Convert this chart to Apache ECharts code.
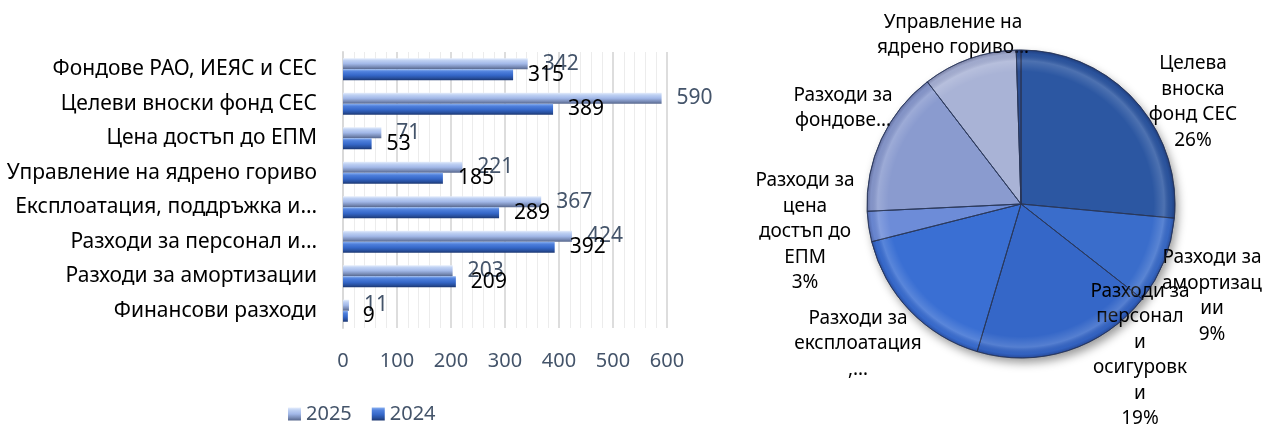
<!DOCTYPE html>
<html>
<head>
<meta charset="utf-8">
<script src="https://cdn.jsdelivr.net/npm/echarts@6/dist/echarts.min.js"></script>
<style>
  html, body { margin: 0; padding: 0; background: #ffffff; }
  #chart { width: 1262px; height: 425px; }
</style>
</head>
<body>
<div id="chart"></div>
<script>
// Cost categories (bar chart, top to bottom)
const categories = [
  'Фондове РАО, ИЕЯС и СЕС',
  'Целеви вноски фонд СЕС',
  'Цена достъп до ЕПМ',
  'Управление на ядрено гориво',
  'Експлоатация, поддръжка и…',
  'Разходи за персонал и…',
  'Разходи за амортизации',
  'Финансови разходи'
];
const values2025 = [342, 590, 71, 221, 367, 424, 203, 11];
const values2024 = [315, 389, 53, 185, 289, 392, 209, 9];
const seriesNames = ['2025', '2024'];
const axisMin = 0;
const axisMax = 600;
const axisStep = 100;

// Structure of the 2025 costs (pie, clockwise from 12 o'clock)
const pieNames = [
  'Целева вноска фонд СЕС',
  'Разходи за амортизации',
  'Разходи за персонал и осигуровки',
  'Разходи за експлоатация, …',
  'Разходи за цена достъп до ЕПМ',
  'Разходи за фондове…',
  'Управление на ядрено гориво…',
  'Финансови разходи'
];
const pieValues = [590, 203, 424, 367, 71, 342, 221, 11];
// Wrapped label text per slice; the share is appended when showShare is set
const pieLabelText = [
  ['Целева', 'вноска', 'фонд СЕС'],
  ['Разходи за', 'амортизац', 'ии'],
  ['Разходи за', 'персонал', 'и', 'осигуровк', 'и'],
  ['Разходи за', 'експлоатация', ',…'],
  ['Разходи за', 'цена', 'достъп до', 'ЕПМ'],
  ['Разходи за', 'фондове…'],
  ['Управление на', 'ядрено гориво…'],
  null
];
const pieShowShare = [true, true, true, false, true, false, false, false];

// ---- styling / layout ----
const FONT = 'Noto Sans';
const pieColors = ['#2c57a2', '#3a6dcb', '#3567c8', '#3a6fd3', '#6d8cd8', '#8a9bcf', '#a9b3d6', '#2a4d92'];
const PIE_CX = 1021, PIE_CY = 204, PIE_R = 154;
const labelSpots = [
  [1193, 102], [1212, 296], [1140, 355], [858, 344],
  [805, 232], [843, 108], [953, 35], null
];

function vGrad(stops) {
  return { type: 'linear', x: 0, y: 0, x2: 0, y2: 1,
    colorStops: stops.map(s => ({ offset: s[0], color: s[1] })) };
}
const grad2025 = vGrad([[0, '#e6eefc'], [0.2, '#bfd1f3'], [0.5, '#a2b8e8'], [0.78, '#7a8db8'], [1, '#56668c']]);
const grad2024 = vGrad([[0, '#8ab0f0'], [0.22, '#4f80dc'], [0.55, '#3567c8'], [0.8, '#28509f'], [1, '#1b3670']]);

const pieTotal = pieValues.reduce((a, b) => a + b, 0);

const chart = echarts.init(document.getElementById('chart'), null, { renderer: 'canvas' });

chart.setOption({
  animation: false,
  textStyle: { fontFamily: FONT },
  legend: {
    data: seriesNames,
    left: 283,
    top: 399,
    icon: 'rect',
    itemWidth: 13,
    itemHeight: 13,
    itemGap: 20,
    textStyle: { fontFamily: FONT, fontSize: 20, color: '#44546a' }
  },
  grid: { left: 343, right: 595, top: 52, bottom: 97, containLabel: false },
  xAxis: {
    type: 'value',
    min: axisMin,
    max: axisMax,
    interval: axisStep,
    axisLine: { show: false },
    axisTick: { show: false },
    axisLabel: { fontFamily: FONT, fontSize: 20, color: '#44546a', margin: 23 },
    splitLine: { show: true, lineStyle: { color: '#d2d2d2', width: 1.5 } },
    minorTick: { show: false, splitNumber: 5 },
    minorSplitLine: { show: true, lineStyle: { color: '#ececec', width: 1 } }
  },
  yAxis: {
    type: 'category',
    data: categories,
    inverse: true,
    axisLine: { show: true, lineStyle: { color: '#d9d9d9', width: 2 } },
    axisTick: { show: false },
    axisLabel: { fontFamily: FONT, fontSize: 21, color: '#000000', margin: 26 }
  },
  series: [
    {
      name: seriesNames[0],
      type: 'bar',
      data: values2025,
      barWidth: 11,
      barGap: '0%',
      itemStyle: { color: grad2025 },
      label: { show: true, position: 'right', distance: 15, fontFamily: FONT, fontSize: 21, color: '#44546a' }
    },
    {
      name: seriesNames[1],
      type: 'bar',
      data: values2024,
      barWidth: 11,
      barGap: '0%',
      itemStyle: { color: grad2024 },
      label: { show: true, position: 'right', distance: 15, fontFamily: FONT, fontSize: 21, color: '#000000' }
    },
    // soft drop shadow under the pie
    {
      type: 'pie',
      silent: true,
      center: [PIE_CX, PIE_CY],
      radius: [0, PIE_R],
      label: { show: false },
      labelLine: { show: false },
      z: 1,
      data: [{ value: 1, itemStyle: { color: '#3a5da0', shadowBlur: 10, shadowOffsetX: 3, shadowOffsetY: 5, shadowColor: 'rgba(0,0,0,0.4)' } }]
    },
    {
      name: 'Структура',
      type: 'pie',
      center: [PIE_CX, PIE_CY],
      radius: [0, PIE_R],
      startAngle: 90,
      clockwise: true,
      avoidLabelOverlap: false,
      z: 2,
      itemStyle: { borderColor: 'rgba(45,60,95,0.75)', borderWidth: 1 },
      label: {
        show: true,
        position: 'outside',
        fontFamily: FONT,
        fontSize: 19,
        lineHeight: 25.5,
        color: '#000000',
        align: 'center',
        formatter: function (p) {
          const lines = pieLabelText[p.dataIndex];
          if (!lines) return '';
          const out = lines.slice();
          if (pieShowShare[p.dataIndex]) out.push(Math.round(p.value / pieTotal * 100) + '%');
          return out.join('\n');
        }
      },
      labelLine: { show: false },
      labelLayout: function (params) {
        const spot = labelSpots[params.dataIndex];
        if (!spot) return {};
        return { x: spot[0], y: spot[1], align: 'center', verticalAlign: 'middle' };
      },
      data: pieValues.map((v, i) => ({
        value: v,
        name: pieNames[i],
        itemStyle: { color: pieColors[i] },
        label: { show: !!pieLabelText[i] }
      }))
    },
    // bevelled rim highlight over the slices
    {
      type: 'pie',
      silent: true,
      center: [PIE_CX, PIE_CY],
      radius: [0, PIE_R],
      startAngle: 90,
      clockwise: true,
      z: 3,
      label: { show: false },
      labelLine: { show: false },
      itemStyle: {
        borderColor: 'rgba(40,52,85,0.55)',
        borderWidth: 1,
        color: {
          type: 'radial', x: PIE_CX, y: PIE_CY, r: PIE_R, global: true,
          colorStops: [
            { offset: 0, color: 'rgba(255,255,255,0)' },
            { offset: 0.86, color: 'rgba(255,255,255,0)' },
            { offset: 0.93, color: 'rgba(255,255,255,0.16)' },
            { offset: 0.975, color: 'rgba(0,0,40,0.05)' },
            { offset: 1, color: 'rgba(0,0,40,0.28)' }
          ]
        }
      },
      data: pieValues.map(v => ({ value: v }))
    }
  ]
});
</script>
</body>
</html>
